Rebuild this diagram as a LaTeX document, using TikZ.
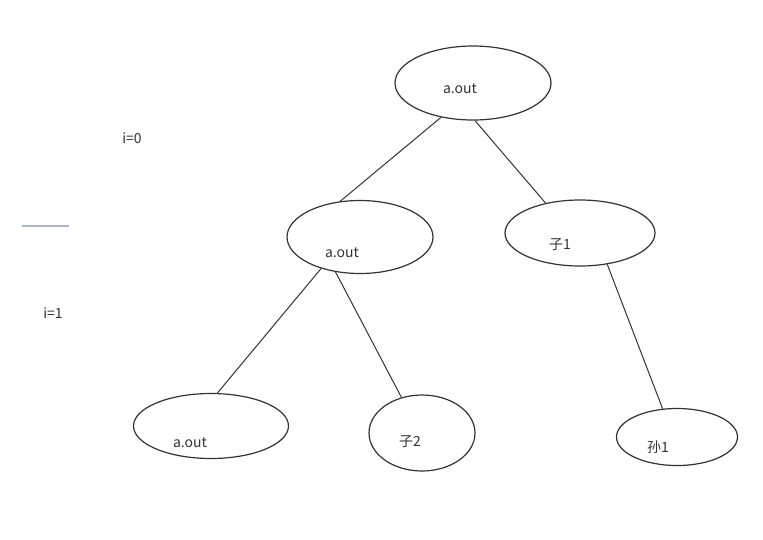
\documentclass[tikz,border=0pt]{standalone}
\usepackage{fontspec}
\setmainfont{Noto Sans CJK SC}
\usetikzlibrary{shapes.geometric}
\definecolor{ink}{HTML}{333333}
\definecolor{sepline}{HTML}{A9B6C8}

\begin{document}
\begin{tikzpicture}[x=1pt,y=-1pt,  % 1 unit = 1 px of the screen
  proc/.style={draw=ink,ellipse,line width=1.2pt,inner sep=0pt},
  lbl/.style={font=\fontsize{14}{16}\selectfont,text=ink,inner sep=0pt},
  edge/.style={draw=ink,line width=1pt}]
  \useasboundingbox[fill=white] (0,0) rectangle (763,539);
  % ---- level marks
  \node[lbl] (i0) at (132,138) {i=0};
  \node[lbl] (i1) at (53,313) {i=1};
  \coordinate (sepL) at (22,226);
  \coordinate (sepR) at (69,226);
  \draw[sepline,line width=1.2pt] (sepL) -- (sepR);
  % ---- processes
  \node[proc,minimum width=156,minimum height=74] (root) at (473,83) {};
  \node[proc,minimum width=146,minimum height=73] (kidA) at (360,237) {};
  \node[proc,minimum width=150,minimum height=66] (kidB) at (580,233) {};
  \node[proc,minimum width=155,minimum height=65] (leafA) at (211,426) {};
  \node[proc,minimum width=106,minimum height=76] (leafB) at (422,433) {};
  \node[proc,minimum width=121,minimum height=57] (leafC) at (677,437) {};
  \node[lbl] (tRoot) at (460,89) {a.out};
  \node[lbl] (tKidA) at (342,253) {a.out};
  \node[lbl] (tKidB) at (560,245) {子1};
  \node[lbl] (tLeafA) at (190,443) {a.out};
  \node[lbl] (tLeafB) at (410,442) {子2};
  \node[lbl] (tLeafC) at (658,447) {孙1};
  % ---- fork edges
  \draw[edge] (root.227) -- (kidA.119);
  \draw[edge] (root.273) -- (kidB.139);
  \draw[edge] (kidA.219) -- (leafA.79);
  \draw[edge] (kidA.235) -- (leafB.120);
  \draw[edge] (kidB.311) -- (leafC.117);
\end{tikzpicture}
\end{document}
